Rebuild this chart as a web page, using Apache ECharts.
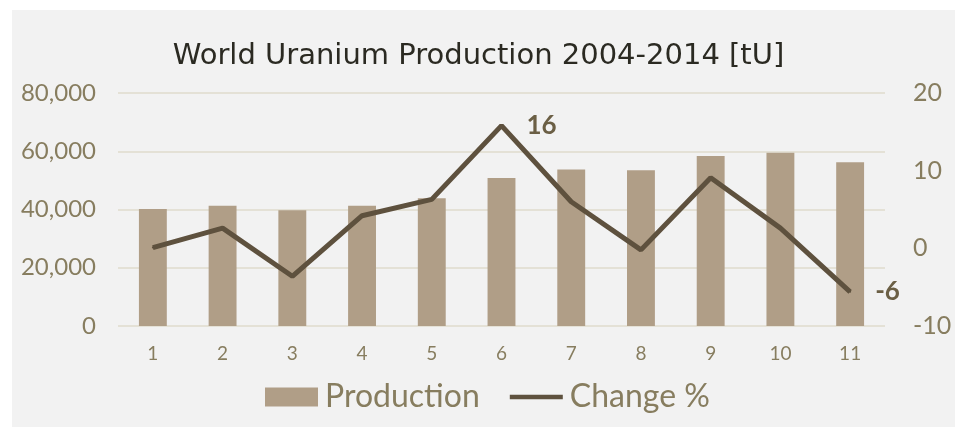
<!DOCTYPE html>
<html><head><meta charset="utf-8">
<script src="https://cdn.jsdelivr.net/npm/echarts@6/dist/echarts.min.js"></script>
<style>html,body{margin:0;padding:0;background:#fff}#c{width:957px;height:427px}</style>
</head><body><div id="c"></div>
<script>
const categories = ['1','2','3','4','5','6','7','8','9','10','11'];
const production = [40200, 41300, 39700, 41300, 43900, 50800, 53700, 53500, 58400, 59500, 56200];
const changePct = [0.1, 2.6, -3.6, 4.2, 6.3, 15.8, 6.0, -0.2, 9.1, 2.6, -5.6];
const labelledPoints = {5: '16', 10: '-6'};

const axisColor = '#877d5f';
const font = 'Lato';
const chart = echarts.init(document.getElementById('c'));
chart.setOption({
  backgroundColor: '#ffffff',
  animation: false,
  graphic: [{type: 'rect', z: -10, shape: {x: 12, y: 10, width: 943, height: 417}, style: {fill: '#f2f2f2'}}],
  title: {text: 'World Uranium Production 2004-2014 [tU]', left: 'center', top: 37,
    textStyle: {fontFamily: 'DejaVu Sans', fontWeight: 'normal', fontSize: 29, color: '#2b2a22'}},
  grid: {left: 118, right: 72, top: 93, bottom: 101},
  legend: {left: 260, top: 376, itemWidth: 53, itemHeight: 19, itemGap: 30,
    textStyle: {fontFamily: font, fontSize: 32, color: axisColor, padding: [0,0,0,2]},
    data: [{name: 'Production', icon: 'rect'},
           {name: 'Change %', icon: 'path://M0,0 L56,0 L56,5 L0,5 Z'}]},
  xAxis: {type: 'category', data: categories,
    axisLine: {show: false}, axisTick: {show: false},
    axisLabel: {fontFamily: font, fontSize: 19, color: axisColor, margin: 18}},
  yAxis: [
    {type: 'value', min: 0, max: 80000, interval: 20000,
      axisLabel: {fontFamily: font, fontSize: 24, color: axisColor, margin: 22,
        formatter: v => v.toLocaleString('en-US')},
      splitLine: {lineStyle: {color: '#e4e1d6', width: 2}}},
    {type: 'value', min: -10, max: 20, interval: 10, position: 'right',
      axisLabel: {fontFamily: font, fontSize: 25, color: axisColor, margin: 28},
      splitLine: {show: false}}
  ],
  series: [
    {name: 'Production', type: 'bar', data: production, barWidth: '40%', yAxisIndex: 0,
      itemStyle: {color: '#b09e87'}},
    {name: 'Change %', type: 'line', yAxisIndex: 1, symbol: 'circle', symbolSize: 2,
      itemStyle: {color: '#5e513e'}, lineStyle: {color: '#5e513e', width: 5},
      data: changePct.map((v, i) => labelledPoints[i] ? {value: v, label: {show: true, position: 'right', distance: 24,
        formatter: labelledPoints[i], fontFamily: font, fontWeight: 'bold', fontSize: 26, color: '#6b5f45'}} : v)}
  ]
});
</script></body></html>
